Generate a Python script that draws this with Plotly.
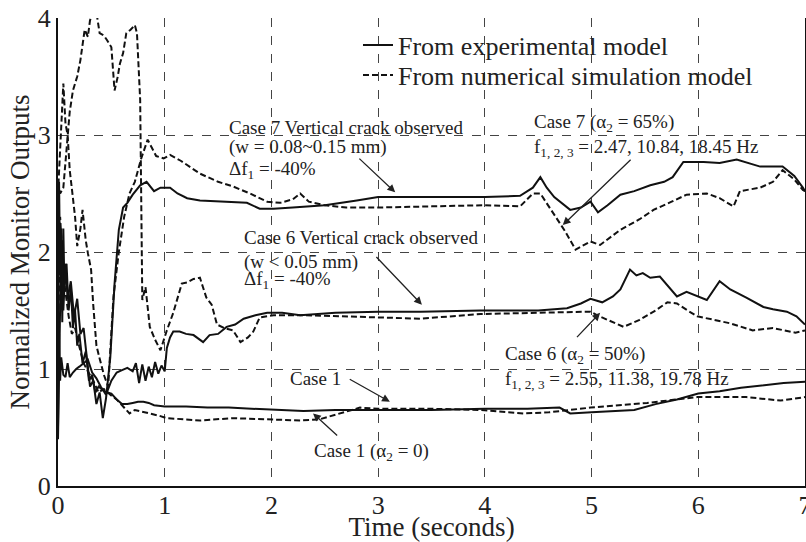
import plotly.graph_objects as go

# ---------------- data ----------------
c1_exp_x = [0, 0.01, 0.02, 0.03, 0.04, 0.05, 0.06, 0.08, 0.10, 0.12, 0.14, 0.16, 0.18, 0.20, 0.23, 0.26, 0.29, 0.32, 0.35, 0.38, 0.42, 0.46, 0.5, 0.55, 0.6, 0.65, 0.7, 0.75, 0.8, 0.85, 0.9, 1.0, 1.2, 1.4, 1.6, 1.8, 2.0, 2.3, 2.6, 3.0, 3.5, 4.0, 4.4, 4.7, 4.8, 5.0, 5.2, 5.4, 5.6, 5.8, 6.0, 6.2, 6.4, 6.6, 6.8, 7.0]
c1_exp_y = [0.4, 0.9, 1.6, 2.1, 1.4, 2.2, 1.7, 1.9, 1.5, 1.7, 1.35, 1.5, 1.2, 1.3, 1.05, 1.15, 0.9, 0.95, 0.8, 0.85, 0.82, 0.8, 0.79, 0.74, 0.7, 0.7, 0.71, 0.72, 0.72, 0.71, 0.69, 0.68, 0.68, 0.67, 0.67, 0.66, 0.65, 0.64, 0.65, 0.65, 0.65, 0.66, 0.66, 0.67, 0.62, 0.63, 0.64, 0.65, 0.70, 0.74, 0.79, 0.81, 0.84, 0.86, 0.88, 0.89]

c1_sim_x = [0, 0.02, 0.05, 0.08, 0.1, 0.13, 0.16, 0.2, 0.24, 0.28, 0.33, 0.38, 0.43, 0.49, 0.55, 0.6, 0.67, 0.72, 0.77, 0.85, 0.95, 1.02, 1.33, 1.64, 1.96, 2.27, 2.45, 2.64, 2.83, 3.0, 3.5, 3.96, 4.36, 4.6, 4.99, 5.52, 5.99, 6.45, 6.77, 7.0]
c1_sim_y = [1.2, 2.3, 1.8, 1.6, 1.45, 1.3, 1.35, 1.19, 1.05, 0.98, 0.9, 0.8, 0.83, 0.78, 0.74, 0.69, 0.62, 0.65, 0.64, 0.62, 0.6, 0.58, 0.56, 0.58, 0.57, 0.56, 0.57, 0.62, 0.67, 0.66, 0.66, 0.65, 0.62, 0.63, 0.67, 0.71, 0.76, 0.76, 0.73, 0.76]

c6_exp_x = [0, 0.01, 0.02, 0.03, 0.05, 0.07, 0.09, 0.11, 0.14, 0.17, 0.2, 0.24, 0.28, 0.32, 0.36, 0.40, 0.45, 0.5, 0.55, 0.6, 0.65, 0.7, 0.73, 0.76, 0.79, 0.82, 0.85, 0.88, 0.91, 0.94, 0.97, 1.0, 1.02, 1.05, 1.08, 1.14, 1.2, 1.27, 1.36, 1.42, 1.5, 1.58, 1.66, 1.74, 1.85, 1.96, 2.1, 2.27, 2.6, 3.0, 3.4, 3.96, 4.5, 4.77, 4.9, 4.99, 5.1, 5.2, 5.27, 5.36, 5.42, 5.48, 5.55, 5.64, 5.72, 5.80, 5.89, 5.98, 6.08, 6.2, 6.3, 6.45, 6.61, 6.7, 6.83, 6.92, 7.0]
c6_exp_y = [0.5, 1.3, 0.9, 1.1, 0.95, 0.93, 1.05, 0.93, 0.97, 1.0, 1.02, 1.05, 1.08, 0.97, 0.92, 0.85, 0.78, 0.9, 0.97, 0.99, 1.01, 0.98, 1.05, 0.88, 1.04, 0.9, 1.02, 0.93, 1.06, 0.96, 1.03, 0.98, 1.18, 1.27, 1.32, 1.32, 1.30, 1.29, 1.23, 1.29, 1.3, 1.36, 1.38, 1.43, 1.46, 1.48, 1.48, 1.46, 1.48, 1.49, 1.49, 1.50, 1.50, 1.52, 1.56, 1.60, 1.57, 1.62, 1.68, 1.85, 1.80, 1.82, 1.78, 1.79, 1.70, 1.62, 1.66, 1.63, 1.59, 1.75, 1.68, 1.61, 1.53, 1.51, 1.49, 1.45, 1.38]

c6_sim_x = [0, 0.02, 0.05, 0.08, 0.11, 0.14, 0.18, 0.21, 0.25, 0.28, 0.30, 0.33, 0.36, 0.39, 0.43, 0.46, 0.50, 0.53, 0.56, 0.58, 0.61, 0.64, 0.68, 0.72, 0.74, 0.77, 0.79, 0.82, 0.86, 0.91, 0.96, 1.02, 1.08, 1.16, 1.21, 1.27, 1.33, 1.39, 1.44, 1.49, 1.56, 1.64, 1.71, 1.78, 1.83, 1.89, 2.02, 2.3, 2.7, 3.0, 3.4, 3.96, 4.5, 4.99, 5.05, 5.15, 5.3, 5.45, 5.6, 5.71, 5.80, 5.9, 5.99, 6.15, 6.30, 6.51, 6.70, 6.91, 7.0]
c6_sim_y = [2.6, 2.5, 2.55, 2.9, 3.2, 3.38, 3.5, 3.64, 3.9, 3.84, 3.98, 4.05, 4.05, 3.87, 3.85, 3.81, 3.75, 3.38, 3.5, 3.61, 3.7, 3.87, 3.9, 3.94, 3.87, 3.3, 1.59, 1.7, 1.36, 1.25, 1.16, 1.33, 1.48, 1.73, 1.74, 1.77, 1.78, 1.61, 1.55, 1.38, 1.35, 1.33, 1.23, 1.27, 1.32, 1.44, 1.46, 1.46, 1.45, 1.44, 1.43, 1.47, 1.48, 1.49, 1.46, 1.42, 1.36, 1.42, 1.5, 1.57, 1.56, 1.5, 1.45, 1.42, 1.39, 1.33, 1.35, 1.31, 1.33]

c7_exp_x = [0, 0.01, 0.02, 0.03, 0.05, 0.07, 0.09, 0.12, 0.15, 0.18, 0.21, 0.24, 0.27, 0.30, 0.33, 0.36, 0.39, 0.42, 0.45, 0.49, 0.53, 0.57, 0.61, 0.65, 0.70, 0.77, 0.83, 0.90, 0.96, 1.05, 1.12, 1.21, 1.33, 1.5, 1.77, 1.89, 2.02, 2.2, 2.5, 2.8, 3.0, 3.5, 4.0, 4.33, 4.45, 4.52, 4.58, 4.65, 4.80, 4.9, 4.99, 5.06, 5.15, 5.27, 5.4, 5.55, 5.68, 5.76, 5.86, 6.05, 6.2, 6.36, 6.5, 6.58, 6.79, 6.9, 6.98, 7.0]
c7_exp_y = [1.0, 2.6, 1.8, 2.2, 1.5, 1.9, 1.6, 1.75, 1.45, 1.6, 1.3, 1.35, 1.1, 0.85, 0.9, 0.7, 0.8, 0.58, 0.75, 1.1, 1.73, 2.19, 2.38, 2.42, 2.49, 2.57, 2.6, 2.52, 2.55, 2.55, 2.50, 2.46, 2.44, 2.43, 2.42, 2.37, 2.37, 2.38, 2.40, 2.44, 2.47, 2.47, 2.47, 2.48, 2.55, 2.64, 2.55, 2.47, 2.36, 2.38, 2.43, 2.34, 2.40, 2.49, 2.52, 2.57, 2.60, 2.64, 2.77, 2.77, 2.76, 2.79, 2.75, 2.73, 2.73, 2.65, 2.55, 2.52]

c7_sim_x = [0, 0.02, 0.04, 0.05, 0.07, 0.09, 0.11, 0.13, 0.16, 0.18, 0.21, 0.23, 0.26, 0.28, 0.31, 0.33, 0.36, 0.39, 0.43, 0.47, 0.52, 0.57, 0.62, 0.67, 0.72, 0.78, 0.84, 0.92, 0.99, 1.05, 1.15, 1.33, 1.5, 1.64, 1.8, 1.96, 2.08, 2.2, 2.27, 2.35, 2.5, 2.7, 3.0, 3.5, 4.0, 4.33, 4.45, 4.52, 4.64, 4.75, 4.85, 4.99, 5.08, 5.27, 5.45, 5.58, 5.75, 5.89, 6.08, 6.2, 6.33, 6.39, 6.58, 6.7, 6.79, 6.9, 6.98, 7.0]
c7_sim_y = [2.5, 2.9, 3.3, 3.44, 3.1, 3.0, 2.7, 2.56, 2.3, 2.05, 2.2, 2.36, 2.1, 1.99, 1.85, 1.55, 1.2, 1.09, 0.95, 0.85, 1.62, 2.0, 2.3, 2.5, 2.6, 2.8, 2.96, 2.82, 2.80, 2.83, 2.78, 2.67, 2.6, 2.56, 2.5, 2.43, 2.42, 2.45, 2.50, 2.43, 2.40, 2.38, 2.38, 2.39, 2.40, 2.39, 2.50, 2.50, 2.33, 2.18, 2.02, 2.09, 2.06, 2.19, 2.28, 2.36, 2.43, 2.49, 2.50, 2.46, 2.39, 2.52, 2.55, 2.6, 2.70, 2.62, 2.53, 2.52]

x_ticks = [0, 1, 2, 3, 4, 5, 6, 7]
y_ticks = [0, 1, 2, 3, 4]

legend_names = ["From experimental model", "From numerical simulation model"]

# annotation text lines: (x, y, text)
label_lines = [
    (1.584, 3.068, "Case 7 Vertical crack observed"),
    (1.584, 2.897, "(w = 0.08~0.15 mm)"),
    (1.584, 2.70, "Δf<sub>1</sub> = -40%"),
    (1.724, 2.120, "Case 6 Vertical crack observed"),
    (1.724, 1.915, "(w < 0.05 mm)"),
    (1.724, 1.76, "Δf<sub>1</sub> = -40%"),
    (4.442, 3.10, "Case 7 (α<sub>2</sub> = 65%)"),
    (4.442, 2.89, "f<sub>1, 2, 3</sub> = 2.47, 10.84, 18.45 Hz"),
    (4.170, 1.12, "Case 6 (α<sub>2</sub> = 50%)"),
    (4.170, 0.91, "f<sub>1, 2, 3</sub> = 2.55, 11.38, 19.78 Hz"),
    (2.155, 0.923, "Case 1"),
    (2.380, 0.29, "Case 1 (α<sub>2</sub> = 0)"),
]

# arrows: head x, head y, tail x, tail y
arrow_list = [
    (3.16, 2.51, 2.81, 2.81),
    (3.41, 1.55, 2.97, 1.97),
    (4.73, 2.23, 5.38, 2.80),
    (5.08, 1.48, 4.85, 1.26),
    (3.11, 0.72, 2.72, 0.92),
    (2.39, 0.62, 2.63, 0.42),
]

# ---------------- figure ----------------
FONT = "Liberation Serif"
INK = "#222222"
solid = dict(color="#111111", width=2)
dashed = dict(color="#111111", width=2, dash="6px,3px")

fig = go.Figure()
series = [
    (c1_exp_x, c1_exp_y, solid, 0, True),
    (c1_sim_x, c1_sim_y, dashed, 1, True),
    (c6_exp_x, c6_exp_y, solid, 0, False),
    (c6_sim_x, c6_sim_y, dashed, 1, False),
    (c7_exp_x, c7_exp_y, solid, 0, False),
    (c7_sim_x, c7_sim_y, dashed, 1, False),
]
for xs, ys, ln, k, show in series:
    fig.add_trace(go.Scatter(x=xs, y=ys, mode="lines", line=ln, name=legend_names[k],
                             showlegend=show, legend="legend" if k == 0 else "legend2"))

tfont = dict(family=FONT, size=19, color=INK)
for x, y, t in label_lines:
    fig.add_annotation(x=x, y=y, xref="x", yref="y", text=t, showarrow=False,
                       xanchor="left", yanchor="middle", align="left", font=tfont)

for hx, hy, tx, ty in arrow_list:
    fig.add_annotation(x=hx, y=hy, ax=tx, ay=ty, xref="x", yref="y", axref="x", ayref="y",
                       text="", showarrow=True, arrowhead=2, arrowsize=1.2,
                       arrowwidth=1.3, arrowcolor=INK)

# white backdrop behind the legend (hides grid lines, stays below traces)
fig.add_shape(type="rect", xref="paper", yref="paper", x0=0.40, x1=0.97, y0=0.84, y1=0.995,
              fillcolor="white", line=dict(width=0), layer="between")

leg_common = dict(xanchor="left", yanchor="middle", bgcolor="rgba(0,0,0,0)",
                  font=dict(family=FONT, size=26, color=INK), itemwidth=30)

fig.update_layout(
    width=806, height=542,
    margin=dict(l=58, r=1, t=18, b=56),
    paper_bgcolor="white", plot_bgcolor="white",
    font=dict(family=FONT, color=INK),
    legend=dict(x=0.4016, y=0.942, **leg_common),
    legend2=dict(x=0.4016, y=0.878, **leg_common),
    xaxis=dict(range=[0, 7], tickvals=x_ticks, ticktext=[str(v) for v in x_ticks],
               showgrid=True, gridcolor="#444444", gridwidth=1, griddash="dash",
               showline=True, linecolor="#111111", linewidth=2, mirror=False,
               zeroline=False, ticks="", ticklabeloverflow="allow", automargin=False,
               ticklabelstandoff=-5,
               tickfont=dict(family=FONT, size=26, color=INK),
               title=dict(text="Time (seconds)", font=dict(family=FONT, size=27, color=INK), standoff=6)),
    yaxis=dict(range=[0, 4], tickvals=y_ticks, ticktext=[str(v) for v in y_ticks],
               showgrid=True, gridcolor="#444444", gridwidth=1, griddash="dash",
               showline=True, linecolor="#111111", linewidth=2, mirror=True,
               zeroline=False, ticks="", ticklabeloverflow="allow", automargin=False,
               tickfont=dict(family=FONT, size=26, color=INK),
               title=dict(text="Normalized Monitor Outputs", font=dict(family=FONT, size=27, color=INK), standoff=0)),
)

fig.write_html("out.html")
